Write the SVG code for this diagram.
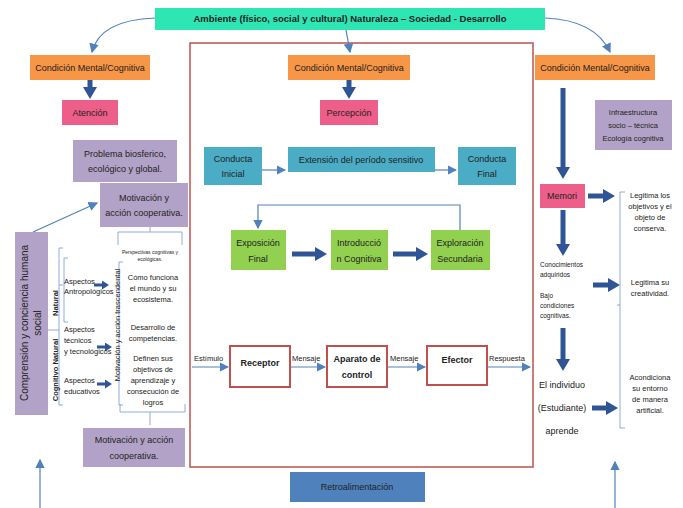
<svg xmlns="http://www.w3.org/2000/svg" width="683" height="508" viewBox="0 0 683 508">
<defs>
<marker id="a" markerWidth="8" markerHeight="8" refX="7" refY="4" orient="auto"><path d="M0,0 L8,4 L0,8 z" fill="#4f81bd"/></marker>
<marker id="b" markerUnits="userSpaceOnUse" markerWidth="12" markerHeight="14" refX="1" refY="7" orient="auto"><path d="M0,0 L12,7 L0,14 z" fill="#2f5597"/></marker>
<marker id="c" markerUnits="userSpaceOnUse" markerWidth="7" markerHeight="9" refX="1" refY="4.5" orient="auto"><path d="M0,0 L7,4.5 L0,9 z" fill="#2f5597"/></marker>
</defs>
<style>
text{font-family:"Liberation Sans",Arial,sans-serif;font-size:9px;fill:#222}
.or{fill:#f79646}.pk{fill:#ed5e8a}.pu{fill:#b3a2c7}.bl{fill:#4bacc6}.gr{fill:#92d050}.wb{fill:#fff;stroke:#c0504d;stroke-width:2}
.c{text-anchor:middle}.s{font-size:7.5px}.xs{font-size:5px}
.th{stroke:#2f5597;stroke-width:5;fill:none}
.tn{stroke:#2f5597;stroke-width:3;fill:none}
.ln{stroke:#4f81bd;stroke-width:1.2;fill:none}
.br{stroke:#8eaadb;stroke-width:1;fill:none}
</style>
<rect width="683" height="508" fill="#fff"/>
<rect x="190" y="43" width="343" height="424" fill="none" stroke="#c0504d" stroke-width="1.5"/>
<g id="connectors">
<path class="ln" d="M155,18 Q100,20 92,52" marker-end="url(#a)"/>
<path class="ln" d="M346,30 L350,52" marker-end="url(#a)"/>
<path class="ln" d="M545,18 Q595,20 610,52" marker-end="url(#a)"/>
<path class="th" d="M90,80 V88" marker-end="url(#b)"/>
<path class="th" d="M349,80 V88" marker-end="url(#b)"/>
<path class="th" d="M563,88 V168" marker-end="url(#b)"/>
<path class="th" d="M563,210 V245" marker-end="url(#b)"/>
<path class="th" d="M563,328 V360" marker-end="url(#b)"/>
<path class="th" d="M588,196 H604" marker-end="url(#b)"/>
<path class="th" d="M593,285 H609" marker-end="url(#b)"/>
<path class="th" d="M592,408 H607" marker-end="url(#b)"/>
<path class="ln" d="M262,170 H285" marker-end="url(#a)"/>
<path class="ln" d="M435,170 H456" marker-end="url(#a)"/>
<path class="ln" d="M460,230 V205 H258 V228" marker-end="url(#a)"/>
<path class="th" d="M292,254 H316" marker-end="url(#b)"/>
<path class="th" d="M393,254 H417" marker-end="url(#b)"/>
<path class="ln" d="M192,367 H228" marker-end="url(#a)"/>
<path class="ln" d="M290,367 H325" marker-end="url(#a)"/>
<path class="ln" d="M387,367 H425" marker-end="url(#a)"/>
<path class="ln" d="M487,367 H530" marker-end="url(#a)"/>
<path class="ln" d="M33,232 L97,203" marker-end="url(#a)"/>
<path class="ln" d="M40,508 V460" marker-end="url(#a)"/>
<path class="ln" d="M615,508 V462" marker-end="url(#a)"/>
<path class="tn" d="M94,285 H103" marker-end="url(#c)"/>
<path class="tn" d="M97,347 H106" marker-end="url(#c)"/>
<path class="tn" d="M97,384 H106" marker-end="url(#c)"/>
<path class="br" d="M63,248 H59 V405 H63 M48,330 H59 M68,258 H64 V322 H68 M63,285 H59 M123,262 H119 V405 H123 M118,245 V232 H182 V245 M150,232 V226 M120,404 V412 H185 V404 M150,412 V425 M625,192 H620 V428 H625 M620,305 H617"/>
</g>
<g id="top"><rect x="155" y="8" width="390" height="22" fill="#2ee6b4"/><text x="350" y="22" class="c" style="font-weight:bold;font-size:9.5px">Ambiente (físico, social y cultural) Naturaleza – Sociedad - Desarrollo</text></g>
<g id="cm1"><rect class="or" x="30" y="55" width="120" height="25"/><text x="90" y="71" class="c">Condición Mental/Cognitiva</text></g>
<g id="cm2"><rect class="or" x="288" y="55" width="122" height="25"/><text x="349" y="71" class="c">Condición Mental/Cognitiva</text></g>
<g id="cm3"><rect class="or" x="535" y="55" width="120" height="25"/><text x="595" y="71" class="c">Condición Mental/Cognitiva</text></g>
<g id="atencion"><rect class="pk" x="62" y="100" width="56" height="25"/><text x="90" y="116" class="c">Atención</text></g>
<g id="percepcion"><rect class="pk" x="320" y="100" width="58" height="25"/><text x="349" y="116" class="c">Percepción</text></g>
<g id="problema"><rect class="pu" x="73" y="140" width="104" height="42"/><text x="125" y="157" class="c">Problema biosferico,</text><text x="125" y="172" class="c">ecológico y global.</text></g>
<g id="motiv1"><rect class="pu" x="100" y="183" width="88" height="44"/><text x="144" y="201" class="c">Motivación y</text><text x="144" y="216" class="c">acción cooperativa.</text></g>
<g id="comprension"><rect class="pu" x="15" y="232" width="33" height="183"/><text transform="translate(28,323) rotate(-90)" class="c" style="font-size:10px">Comprensión y conciencia humana</text><text transform="translate(41,323) rotate(-90)" class="c" style="font-size:10px">social</text></g>
<g id="infra"><rect class="pu" x="595" y="100" width="77" height="50"/><text x="633" y="115" class="c s">Infraestructura</text><text x="633" y="128" class="c s">socio – técnica</text><text x="633" y="141" class="c s">Ecología cognitiva</text></g>
<g id="left-detail">
<text transform="translate(58,303) rotate(-90)" class="c s" style="font-weight:bold">Natural</text>
<text transform="translate(58,370) rotate(-90)" class="c s" style="font-weight:bold">Cognitivo Natural</text>
<text x="64" y="284" class="s">Aspectos</text><text x="64" y="294" class="s">Antropológicos</text>
<text x="64" y="332" class="s">Aspectos</text><text x="64" y="343" class="s">técnicos</text><text x="64" y="354" class="s">y tecnológicos</text>
<text x="64" y="383" class="s">Aspectos</text><text x="64" y="394" class="s">educativos</text>
<text transform="translate(120,325) rotate(-90)" class="c s">Motivación y acción trascendental</text>
<text x="150" y="254" class="c xs">Perspectivas cognitivas y</text><text x="150" y="261" class="c xs">ecológicas.</text>
<text x="153" y="280" class="c s">Cómo funciona</text><text x="153" y="291" class="c s">el mundo y su</text><text x="153" y="302" class="c s">ecosistema.</text>
<text x="153" y="330" class="c s">Desarrollo de</text><text x="153" y="341" class="c s">competencias.</text>
<text x="153" y="361" class="c s">Definen sus</text><text x="153" y="372" class="c s">objetivos de</text><text x="153" y="383" class="c s">aprendizaje y</text><text x="153" y="394" class="c s">consecución de</text><text x="153" y="405" class="c s">logros</text>
</g>
<g id="motiv2"><rect class="pu" x="83" y="428" width="102" height="39"/><text x="134" y="443" class="c">Motivación y acción</text><text x="134" y="459" class="c">cooperativa.</text></g>
<g id="cinicial"><rect class="bl" x="204" y="147" width="58" height="38"/><text x="233" y="162" class="c">Conducta</text><text x="233" y="177" class="c">Inicial</text></g>
<g id="extension"><rect class="bl" x="288" y="147" width="147" height="25"/><text x="361" y="163" class="c">Extensión del período sensitivo</text></g>
<g id="cfinal"><rect class="bl" x="458" y="147" width="58" height="38"/><text x="487" y="162" class="c">Conducta</text><text x="487" y="177" class="c">Final</text></g>
<g id="exposicion"><rect class="gr" x="231" y="230" width="55" height="40"/><text x="258" y="246" class="c">Exposición</text><text x="258" y="262" class="c">Final</text></g>
<g id="introduccion"><rect class="gr" x="331" y="230" width="57" height="40"/><text x="359" y="246" class="c">Introducció</text><text x="359" y="262" class="c">n Cognitiva</text></g>
<g id="exploracion"><rect class="gr" x="431" y="230" width="59" height="40"/><text x="460" y="246" class="c">Exploración</text><text x="460" y="262" class="c">Secundaria</text></g>
<g id="receptor"><rect class="wb" x="230" y="346" width="60" height="41"/><text x="260" y="366" class="c" style="font-weight:bold">Receptor</text></g>
<g id="aparato"><rect class="wb" x="327" y="346" width="60" height="41"/><text x="357" y="362" class="c" style="font-weight:bold">Aparato de</text><text x="357" y="378" class="c" style="font-weight:bold">control</text></g>
<g id="efector"><rect class="wb" x="427" y="346" width="60" height="39"/><text x="457" y="363" class="c" style="font-weight:bold">Efector</text></g>
<g id="labels"><text x="194" y="361" class="s">Estímulo</text><text x="292" y="361" class="s">Mensaje</text><text x="390" y="361" class="s">Mensaje</text><text x="489" y="361" class="s">Respuesta</text></g>
<g id="retro"><rect x="290" y="472" width="135" height="30" fill="#4f81bd"/><text x="357" y="490" class="c">Retroalimentación</text></g>
<g id="memori"><rect class="pk" x="540" y="184" width="45" height="24"/><text x="562" y="199" class="c">Memori</text></g>
<g id="right-text">
<text x="540" y="267" style="font-size:6.5px">Conocimientos</text><text x="540" y="277" style="font-size:6.5px">adquiridos</text>
<text x="540" y="298" style="font-size:6.5px">Bajo</text><text x="540" y="308" style="font-size:6.5px">condiciones</text><text x="540" y="318" style="font-size:6.5px">cognitivas.</text>
<text x="562" y="388" class="c">El individuo</text><text x="562" y="411" class="c">(Estudiante)</text><text x="562" y="434" class="c">aprende</text>
<text x="650" y="198" class="c s">Legitima los</text><text x="650" y="209" class="c s">objetivos y el</text><text x="650" y="220" class="c s">objeto de</text><text x="650" y="231" class="c s">conserva.</text>
<text x="650" y="285" class="c s">Legitima su</text><text x="650" y="296" class="c s">creatividad.</text>
<text x="650" y="380" class="c s">Acondiciona</text><text x="650" y="391" class="c s">su entorno</text><text x="650" y="402" class="c s">de manera</text><text x="650" y="413" class="c s">artificial.</text>
</g>
</svg>
